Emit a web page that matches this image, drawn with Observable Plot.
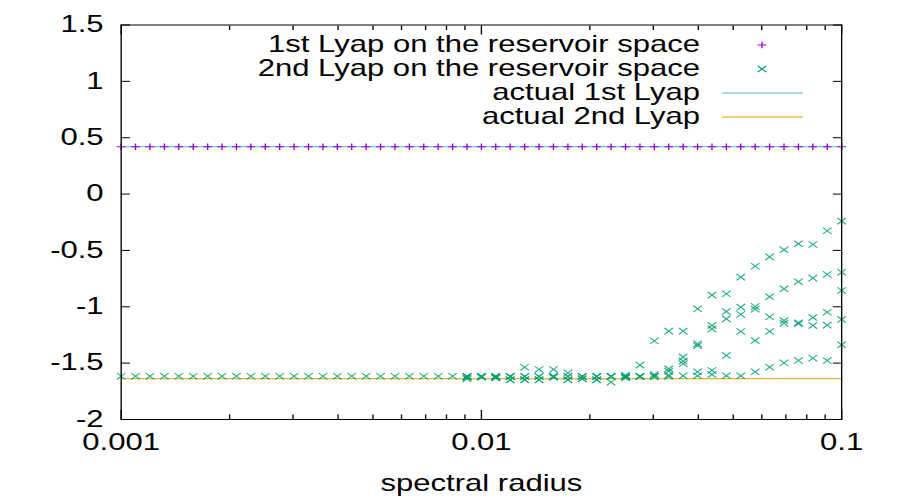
<!DOCTYPE html>
<html><head><meta charset="utf-8">
<script src="https://cdn.jsdelivr.net/npm/d3@7"></script>
<script src="https://cdn.jsdelivr.net/npm/@observablehq/plot@0.6"></script>
<style>
html,body{margin:0;padding:0;background:#fff;overflow:hidden}
#chart{width:897px;height:498px;overflow:hidden}
#chart svg{transform:scaleX(1.35);transform-origin:0 0;display:block}
</style></head><body><div id="chart"></div>
<script>
// ---- data ----
const spectralRadius = [0.001,0.001096,0.001202,0.001318,0.001445,0.001585,0.001738,0.001905,0.002089,0.002291,0.002512,0.002754,0.00302,0.003311,0.003631,0.003981,0.004365,0.004786,0.005248,0.005754,0.00631,0.006918,0.007586,0.008318,0.00912,
0.01,0.01096,0.01202,0.01318,0.01445,0.01585,0.01738,0.01905,0.02089,0.02291,0.02512,0.02754,0.0302,0.03311,0.03631,0.03981,0.04365,0.04786,0.05248,0.05754,0.0631,0.06918,0.07586,0.08318,0.0912,0.1];
const lyap1 = [0.42,0.42,0.42,0.42,0.42,0.42,0.42,0.42,0.42,0.42,0.42,0.42,0.42,0.42,0.42,0.42,0.42,0.42,0.42,0.42,0.42,0.42,0.42,0.42,0.42,
0.42,0.42,0.42,0.42,0.42,0.42,0.42,0.42,0.42,0.42,0.42,0.42,0.42,0.42,0.42,0.42,0.42,0.42,0.42,0.42,0.42,0.42,0.42,0.42,0.42,0.42];
const lyap2 = [
[-1.616],[-1.616],[-1.616],[-1.616],[-1.616],[-1.616],[-1.616],[-1.616],[-1.616],[-1.616],[-1.616],[-1.616],
[-1.616],[-1.616],[-1.616],[-1.616],[-1.616],[-1.616],[-1.616],[-1.616],[-1.616],[-1.616],[-1.616],[-1.616],
[-1.618,-1.618,-1.618,-1.63,-1.639],
[-1.618,-1.618,-1.618,-1.618,-1.625],
[-1.618,-1.618,-1.618,-1.63,-1.63],
[-1.618,-1.618,-1.618,-1.648,-1.648],
[-1.536,-1.618,-1.618,-1.648,-1.648],
[-1.556,-1.618,-1.618,-1.648,-1.648],
[-1.556,-1.618,-1.618,-1.618,-1.625],
[-1.586,-1.618,-1.618,-1.648,-1.648],
[-1.618,-1.618,-1.618,-1.639,-1.639],
[-1.618,-1.618,-1.618,-1.648,-1.648],
[-1.618,-1.618,-1.618,-1.618,-1.669],
[-1.607,-1.618,-1.618,-1.625,-1.63],
[-1.518,-1.618,-1.618,-1.618,-1.618],
[-1.302,-1.601,-1.618,-1.618,-1.618],
[-1.216,-1.55,-1.571,-1.607,-1.618],
[-1.216,-1.447,-1.482,-1.506,-1.612],
[-1.018,-1.329,-1.346,-1.577,-1.612],
[-0.897,-1.166,-1.196,-1.565,-1.601],
[-0.885,-1.042,-1.107,-1.432,-1.612],
[-0.737,-1.003,-1.068,-1.219,-1.612],
[-0.64,-0.997,-1.021,-1.299,-1.577],
[-0.557,-0.911,-1.089,-1.219,-1.536],
[-0.494,-0.84,-1.122,-1.145,-1.497],
[-0.441,-0.778,-1.142,-1.151,-1.477],
[-0.447,-0.746,-1.095,-1.166,-1.456],
[-0.326,-0.713,-1.048,-1.163,-1.477],
[-0.24,-0.693,-0.855,-1.113,-1.337]
];
const actualLyap1 = 0.42;
const actualLyap2 = -1.639;
const yTicks = [-2,-1.5,-1,-0.5,0,0.5,1,1.5];
const yTickLabels = ["-2","-1.5","-1","-0.5","0","0.5","1","1.5"];
const xMajorTicks = [0.001,0.01,0.1];
const xTickLabels = ["0.001","0.01","0.1"];
const xMinorTicks = [0.002,0.003,0.004,0.005,0.006,0.007,0.008,0.009,0.02,0.03,0.04,0.05,0.06,0.07,0.08,0.09];
const xLabel = "spectral radius";
const legendLabels = ["1st Lyap on the reservoir space","2nd Lyap on the reservoir space","actual 1st Lyap","actual 2nd Lyap"];
const legendKinds = ["plus","times","line","line"];
const seriesColors = ["#9400d3","#009e73","#56b4e9","#e69f00"];

// ---- build ----
const SX = 1.35;
const W0 = 897 / SX;
const FONT = "'Liberation Sans', Arial, Helvetica, sans-serif";
const plusR = 2.25, timesR = 3.0;

const pts1 = spectralRadius.map((x, i) => ({x, y: lyap1[i]}));
const pts2 = spectralRadius.flatMap((x, i) => lyap2[i].map(y => ({x, y})));

const chart = Plot.plot({
  width: W0, height: 498,
  marginLeft: 120.5 / SX, marginRight: (897 - 841) / SX, marginTop: 24.5, marginBottom: 79,
  x: {type: "log", domain: [0.001, 0.1]},
  y: {domain: [-2, 1.5]},
  style: {fontFamily: FONT, fontSize: "23px", color: "black", background: "white", overflow: "visible"},
  marks: [
    Plot.ruleY([actualLyap1], {stroke: seriesColors[2], strokeWidth: 1}),
    Plot.ruleY([actualLyap2], {stroke: seriesColors[3], strokeWidth: 1}),
    Plot.dot(pts2, {x: "x", y: "y", symbol: "times", r: timesR, stroke: seriesColors[1], strokeOpacity: 0.85, fill: "none", strokeWidth: 1}),
    Plot.dot(pts1, {x: "x", y: "y", symbol: "plus", r: plusR, stroke: seriesColors[0], fill: "none", strokeWidth: 1}),
    Plot.frame({stroke: "black", strokeWidth: 1}),
    Plot.axisY({anchor: "left", ticks: yTicks, tickSize: -7, tickPadding: 20, tickFormat: d => yTickLabels[yTicks.indexOf(d)], label: null}),
    Plot.axisY({anchor: "right", ticks: yTicks, tickSize: -7, tickFormat: () => "", label: null}),
    Plot.axisX({anchor: "bottom", ticks: xMajorTicks, tickSize: -9, tickPadding: 23, tickFormat: d => xTickLabels[xMajorTicks.indexOf(d)], label: xLabel, labelAnchor: "center", labelArrow: "none", labelOffset: 72}),
    Plot.axisX({anchor: "bottom", ticks: xMinorTicks, tickSize: -4.5, tickFormat: () => "", label: null}),
    Plot.axisX({anchor: "top", ticks: xMajorTicks, tickSize: -9, tickFormat: () => "", label: null}),
    Plot.axisX({anchor: "top", ticks: xMinorTicks, tickSize: -4.5, tickFormat: () => "", label: null})
  ]
});
document.getElementById("chart").append(chart);

// ---- legend (inside plot area, top right) ----
const svg = d3.select(chart.tagName.toLowerCase() === "svg" ? chart : chart.querySelector("svg"));
const lg = svg.append("g").attr("font-family", FONT).attr("font-size", 23);
const textRight = 700 / SX, symX = 762 / SX, lineX1 = 722 / SX, lineX2 = 803 / SX;
legendLabels.forEach((lab, i) => {
  const yy = 45 + i * 24;
  lg.append("text").attr("x", textRight).attr("y", yy).attr("dy", "0.32em")
    .attr("text-anchor", "end").attr("fill", "black").text(lab);
  if (legendKinds[i] === "line") {
    lg.append("line").attr("x1", lineX1).attr("x2", lineX2).attr("y1", yy).attr("y2", yy)
      .attr("stroke", seriesColors[i]).attr("stroke-width", 1);
  } else {
    const sym = legendKinds[i] === "plus" ? d3.symbolPlus : d3.symbolTimes;
    const r = legendKinds[i] === "plus" ? plusR : timesR;
    lg.append("path").attr("d", d3.symbol(sym, r * r * Math.PI)())
      .attr("transform", `translate(${symX},${yy})`)
      .attr("stroke", seriesColors[i]).attr("fill", "none").attr("stroke-width", 1);
  }
});
</script></body></html>
